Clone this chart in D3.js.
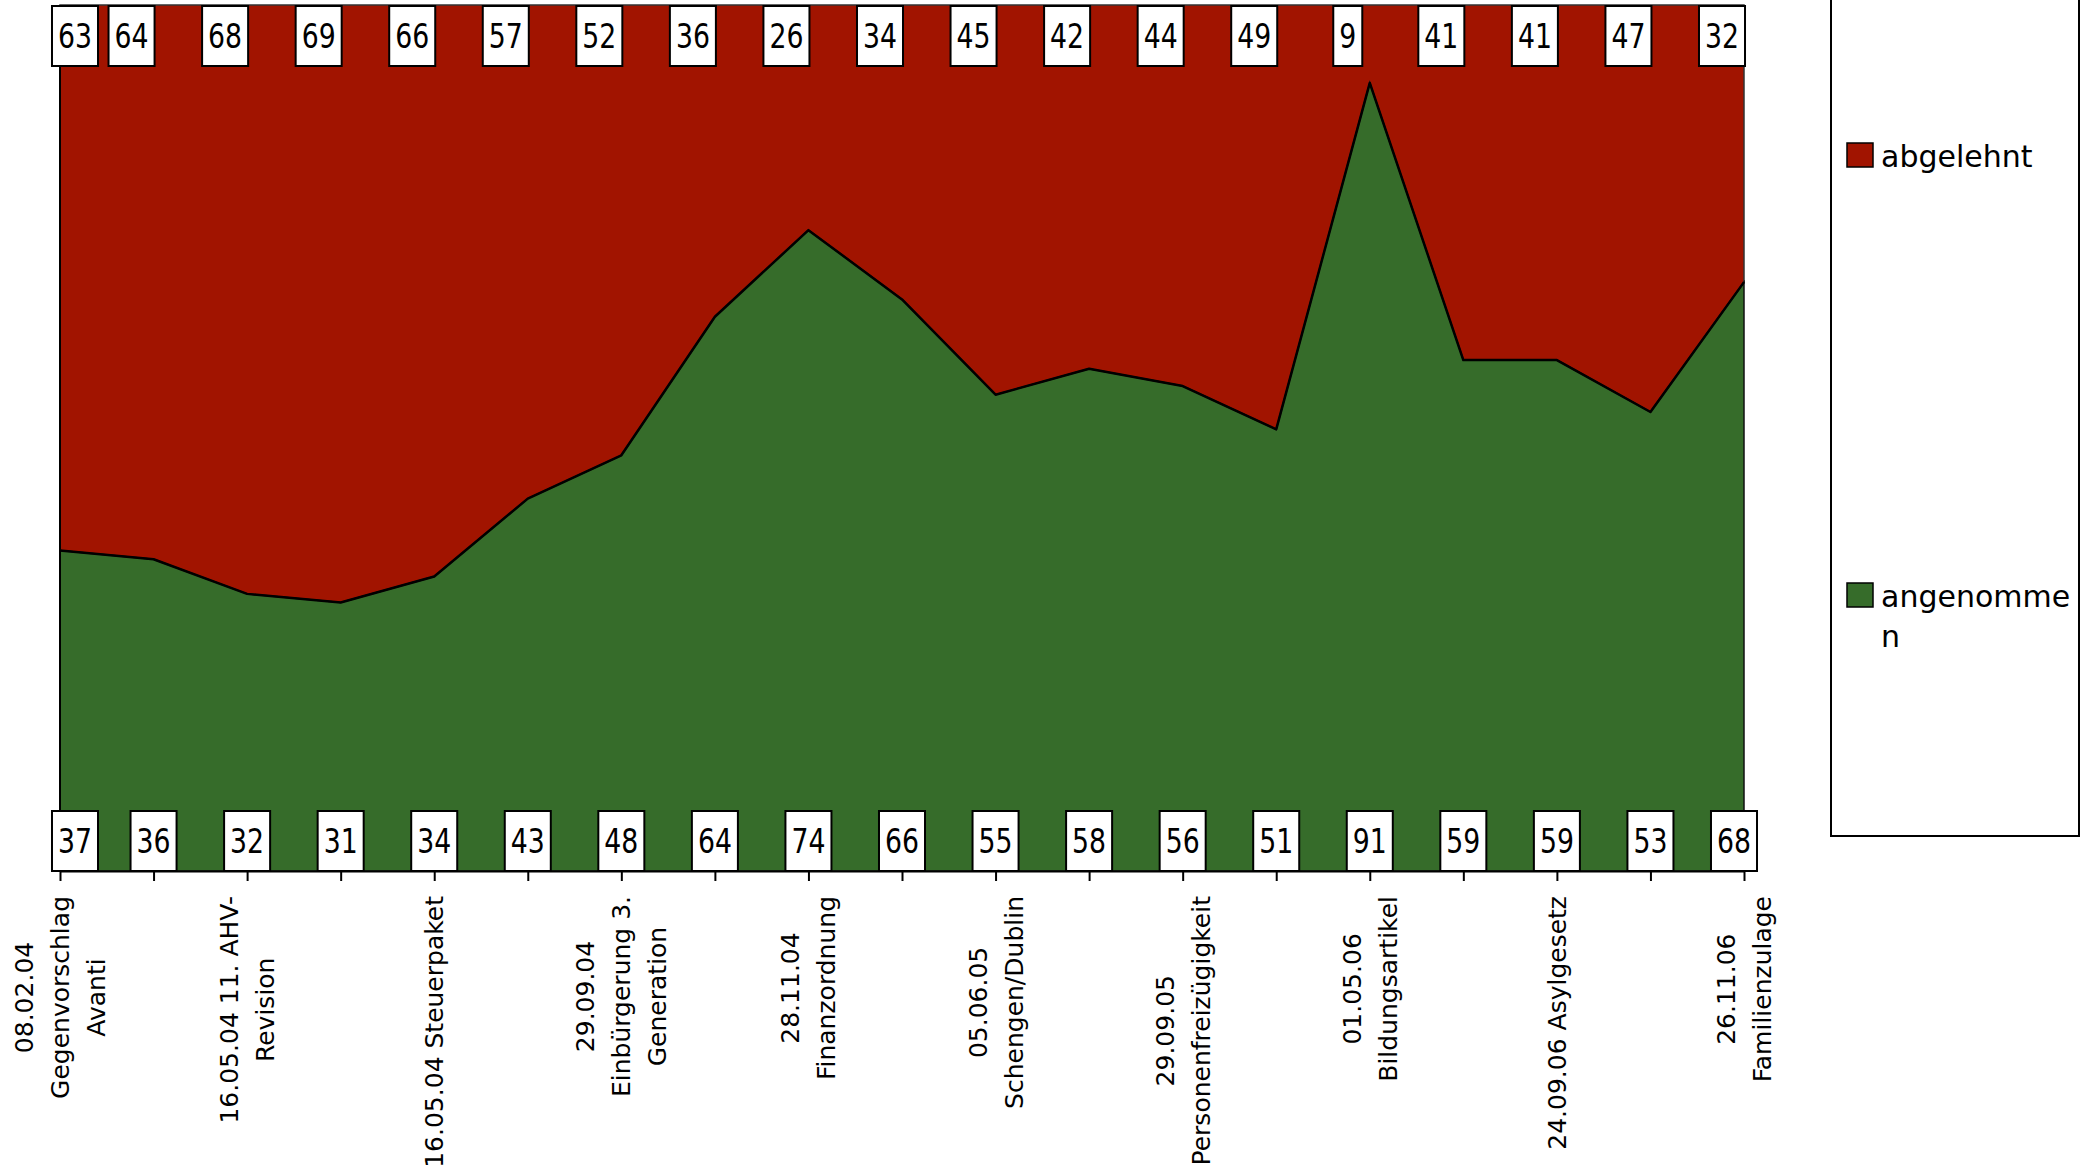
<!DOCTYPE html>
<html>
<head>
<meta charset="utf-8">
<script src="https://cdn.jsdelivr.net/npm/d3@7"></script>
<style>
  body { margin: 0; background: #fff; }
  svg { display: block; }
</style>
</head>
<body>
<div id="chart"></div>
<script>
// Volksabstimmungen 2004-2006, Anteil in Prozent

// tick labels (only every second vote is labelled on the axis)
const tickLabels = [
  "08.02.04 Gegenvorschlag Avanti", "",
  "16.05.04 11. AHV-Revision", "",
  "16.05.04 Steuerpaket", "",
  "29.09.04 Einbürgerung 3. Generation", "",
  "28.11.04 Finanzordnung", "",
  "05.06.05 Schengen/Dublin", "",
  "29.09.05 Personenfreizügigkeit", "",
  "01.05.06 Bildungsartikel", "",
  "24.09.06 Asylgesetz", "",
  "26.11.06 Familienzulage"
];
const angenommen = [37, 36, 32, 31, 34, 43, 48, 64, 74, 66, 55, 58, 56, 51, 91, 59, 59, 53, 68];
const abgelehnt  = [63, 64, 68, 69, 66, 57, 52, 36, 26, 34, 45, 42, 44, 49, 9, 41, 41, 47, 32];
const seriesNames = ["angenommen", "abgelehnt"];
const legendOrder = ["abgelehnt", "angenommen"];

const colors = { angenommen: "#366c2a", abgelehnt: "#a11400" };

const W = 2086, H = 1174;
const margin = { top: 5, right: 342, bottom: 303, left: 60 };
const plotBottom = H - margin.bottom;
const plotRight = W - margin.right;
const font = "'DejaVu Sans', Verdana, sans-serif";

const svg = d3.select("#chart").append("svg")
  .attr("width", W)
  .attr("height", H)
  .style("background", "#fff");

// scales
const x = d3.scalePoint()
  .domain(d3.range(tickLabels.length))
  .range([margin.left, plotRight]);

const y = d3.scaleLinear()
  .domain([0, 100])
  .range([plotBottom, margin.top]);

// stacked data
const rows = tickLabels.map((t, i) => ({ i: i, angenommen: angenommen[i], abgelehnt: abgelehnt[i] }));
const stacked = d3.stack().keys(seriesNames)(rows);

const area = d3.area()
  .x(d => x(d.data.i))
  .y0(d => y(d[0]))
  .y1(d => y(d[1]));

// areas, top series first
svg.append("path")
  .datum(stacked[1])
  .attr("d", area)
  .attr("fill", colors.abgelehnt)
  .attr("stroke", "#333")
  .attr("stroke-width", 1.5);

svg.append("path")
  .datum(stacked[0])
  .attr("d", area)
  .attr("fill", colors.angenommen)
  .attr("stroke", "#111")
  .attr("stroke-width", 1.5);

// boundary line between the two areas
svg.append("path")
  .datum(stacked[0])
  .attr("d", d3.line().x(d => x(d.data.i)).y(d => y(d[1])))
  .attr("fill", "none")
  .attr("stroke", "#000")
  .attr("stroke-width", 2.5)
  .attr("stroke-linejoin", "round");

// left edge
svg.append("line")
  .attr("x1", margin.left).attr("x2", margin.left)
  .attr("y1", margin.top).attr("y2", plotBottom)
  .attr("stroke", "#000")
  .attr("stroke-width", 2);

// x axis with a tick at each vote
const xAxis = svg.append("g")
  .attr("transform", `translate(0,${plotBottom})`)
  .call(d3.axisBottom(x).tickSize(10).tickSizeOuter(0).tickFormat(""));
xAxis.select(".domain").attr("stroke", "#000").attr("stroke-width", 2);
xAxis.selectAll(".tick line").attr("stroke", "#000").attr("stroke-width", 2);

// helper to measure text
const measure = svg.append("text")
  .style("font-family", font)
  .attr("visibility", "hidden");
function textWidth(str, size) {
  measure.style("font-size", size + "px").text(str);
  return measure.node().getComputedTextLength();
}

// word wrap, also breaking after a hyphen
function wrapWords(str, maxW, size) {
  const parts = [];
  str.replace(/(\s*)([^\s-]+-?)/g, (m, sp, w) => { parts.push({ w: w, sp: sp.length > 0 }); });
  const lines = [];
  let cur = "";
  parts.forEach(p => {
    const cand = cur ? cur + (p.sp ? " " : "") + p.w : p.w;
    if (cur && textWidth(cand, size) > maxW) {
      lines.push(cur);
      cur = p.w;
    } else {
      cur = cand;
    }
  });
  if (cur) lines.push(cur);
  return lines;
}

// character wrap for the legend
function wrapChars(str, maxW, size) {
  const lines = [];
  let cur = "";
  for (const ch of str) {
    if (cur && textWidth(cur + ch, size) > maxW) {
      lines.push(cur);
      cur = ch;
    } else {
      cur += ch;
    }
  }
  if (cur) lines.push(cur);
  return lines;
}

// rotated tick labels
const labelSize = 25, labelLine = 36, labelTop = plotBottom + 25;
tickLabels.forEach((label, i) => {
  if (!label) return;
  const lines = wrapWords(label, 280, labelSize);
  const blockW = d3.max(lines, l => textWidth(l, labelSize));
  const g = svg.append("g")
    .attr("transform", `translate(${x(i)},${labelTop}) rotate(-90)`);
  lines.forEach((l, k) => {
    g.append("text")
      .attr("x", -blockW / 2)
      .attr("y", (k - (lines.length - 1) / 2) * labelLine + 9)
      .attr("text-anchor", "middle")
      .style("font-family", font)
      .style("font-size", labelSize + "px")
      .attr("fill", "#000")
      .text(l);
  });
});

// value labels in white boxes
const valSize = 33, valSquash = 0.81, boxH = 60, boxPad = 6;
function drawValueLabels(values, top, dx) {
  values.forEach((v, i) => {
    const tw = textWidth(String(v), valSize) * valSquash;
    const bw = tw + boxPad * 2;
    const cx = Math.max(margin.left + 15, Math.min(plotRight - 10, x(i) + dx));
    const g = svg.append("g").attr("transform", `translate(${cx},${top})`);
    g.append("rect")
      .attr("x", -bw / 2)
      .attr("y", 0)
      .attr("width", bw)
      .attr("height", boxH)
      .attr("fill", "#fff")
      .attr("stroke", "#000")
      .attr("stroke-width", 2);
    g.append("text")
      .attr("transform", `translate(0,${boxH / 2 + 12}) scale(${valSquash},1)`)
      .attr("text-anchor", "middle")
      .style("font-family", font)
      .style("font-size", valSize + "px")
      .attr("fill", "#000")
      .text(v);
  });
}
drawValueLabels(abgelehnt, margin.top + 1, -22);
drawValueLabels(angenommen, plotBottom - boxH, 0);

// legend
const legX = 1831, legRight = 2079, legBottom = 836;
svg.append("rect")
  .attr("x", legX)
  .attr("y", -5)
  .attr("width", legRight - legX)
  .attr("height", legBottom + 5)
  .attr("fill", "#fff")
  .attr("stroke", "#000")
  .attr("stroke-width", 2);

const legSize = 30, legLine = 40;
legendOrder.forEach((name, k) => {
  const cy = 155 + k * 440;
  svg.append("rect")
    .attr("x", legX + 16)
    .attr("y", cy - 12)
    .attr("width", 26)
    .attr("height", 24)
    .attr("fill", colors[name])
    .attr("stroke", "#000")
    .attr("stroke-width", 1.5);
  const lines = wrapChars(name, legRight - (legX + 50) - 4, legSize);
  lines.forEach((l, j) => {
    svg.append("text")
      .attr("x", legX + 50)
      .attr("y", cy + 12 + j * legLine)
      .style("font-family", font)
      .style("font-size", legSize + "px")
      .attr("fill", "#000")
      .text(l);
  });
});

measure.remove();
</script>
</body>
</html>
